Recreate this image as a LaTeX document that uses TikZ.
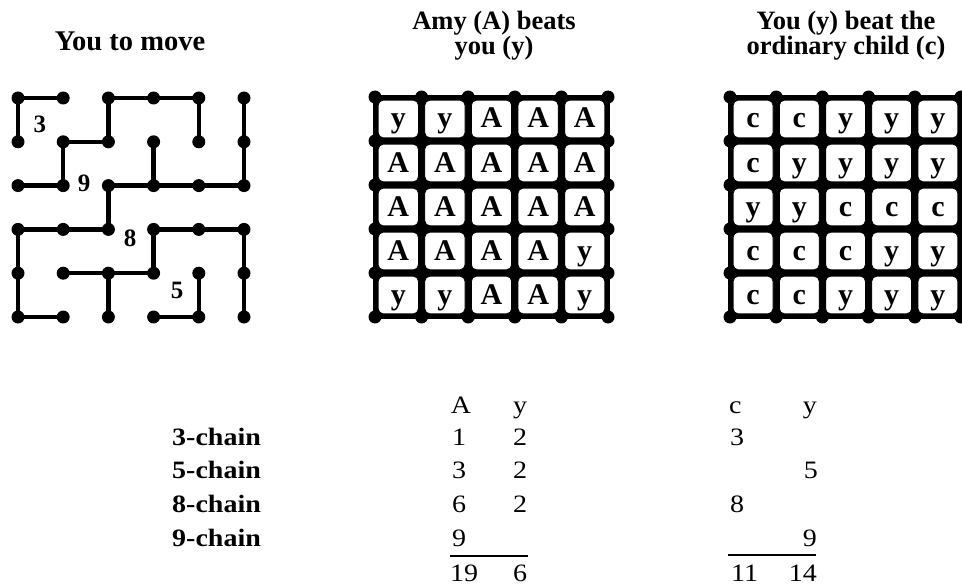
\documentclass[tikz,border=0pt]{standalone}
\usepackage{fontspec}
\setmainfont{Liberation Serif}
\newfontfamily\widefont[FakeStretch=1.12]{Liberation Serif}
\begin{document}
\begin{tikzpicture}[x=1pt,y=-1pt,
  dot/.style={circle,fill=black,inner sep=0pt,minimum size=13pt},
  mazeline/.style={line width=4.5pt},
  ttl/.style={font=\fontsize{26.5}{26}\selectfont\bfseries,inner sep=0pt},
  cell/.style={font=\fontsize{30}{32}\selectfont\bfseries,inner sep=0pt,anchor=base},
  mlabel/.style={font=\fontsize{25}{28}\selectfont\bfseries,inner sep=0pt},
  chainlab/.style={font=\widefont\fontsize{25}{30}\selectfont\bfseries,inner sep=0pt,anchor=base west},
  num/.style={font=\widefont\fontsize{25}{30}\selectfont,inner sep=0pt},
  sumline/.style={line width=1.3pt}
]
\useasboundingbox (0,0) rectangle (962,586);
\clip (0,0) rectangle (962,586);

% ---------- titles ----------
\node[ttl,anchor=base,font=\fontsize{28.5}{28}\selectfont\bfseries] (t1) at (130,51) {You to move};
\node[ttl,anchor=base] (t2a) at (494,30) {Amy (A) beats};
\node[ttl,anchor=base] (t2b) at (494,55) {you (y)};
\node[ttl,anchor=base] (t3a) at (846,30) {You (y) beat the};
\node[ttl,anchor=base] (t3b) at (846,55) {ordinary child (c)};

% ---------- maze ----------
\foreach \i in {0,...,5}{
  \foreach \j in {0,...,5}{
    \node[dot] (m\i\j) at ({18+45.2*\i},{98+43.8*\j}) {};
  }
}
\draw[mazeline] (m00.center)--(m10.center);
\draw[mazeline] (m20.center)--(m30.center)--(m40.center);
\draw[mazeline] (m11.center)--(m21.center);
\draw[mazeline] (m02.center)--(m12.center);
\draw[mazeline] (m22.center)--(m32.center)--(m42.center)--(m52.center);
\draw[mazeline] (m03.center)--(m13.center)--(m23.center);
\draw[mazeline] (m33.center)--(m43.center)--(m53.center);
\draw[mazeline] (m14.center)--(m24.center)--(m34.center);
\draw[mazeline] (m05.center)--(m15.center);
\draw[mazeline] (m35.center)--(m45.center);
\draw[mazeline] (m00.center)--(m01.center);
\draw[mazeline] (m20.center)--(m21.center);
\draw[mazeline] (m40.center)--(m41.center);
\draw[mazeline] (m50.center)--(m51.center)--(m52.center);
\draw[mazeline] (m11.center)--(m12.center);
\draw[mazeline] (m31.center)--(m32.center);
\draw[mazeline] (m22.center)--(m23.center);
\draw[mazeline] (m03.center)--(m04.center)--(m05.center);
\draw[mazeline] (m33.center)--(m34.center);
\draw[mazeline] (m53.center)--(m54.center)--(m55.center);
\draw[mazeline] (m24.center)--(m25.center);
\draw[mazeline] (m44.center)--(m45.center);

\node[mlabel] (l3) at (40,124) {3};
\node[mlabel] (l9) at (84,183) {9};
\node[mlabel] (l8) at (130,238) {8};
\node[mlabel] (l5) at (177,290) {5};

% ---------- middle grid ----------
\foreach \row [count=\r from 0] in {{y,y,A,A,A},{A,A,A,A,A},{A,A,A,A,A},{A,A,A,A,y},{y,y,A,A,y}}{
  \foreach \ch [count=\c from 0] in \row {
    \fill[black] ({375+46.6*\c},{97+44*\r}) rectangle ++(46.6,44);
    \filldraw[fill=white,draw=black,line width=0.8pt,rounded corners=5pt]
      ({375+46.6*\c+3.2},{97+44*\r+3.2}) rectangle ++(40.2,37.6);
    \node[cell] (a\c\r) at ({375+46.6*\c+23.3},{97+44*\r+31}) {\ch};
  }
}
\draw[line width=4pt] (375,97) rectangle (608,317);
\foreach \i in {0,...,5}{
  \foreach \j in {0,...,5}{
    \fill ({375+46.6*\i},{97+44*\j}) circle (6.5pt);
  }
}

% ---------- right grid ----------
\foreach \row [count=\r from 0] in {{c,c,y,y,y},{c,y,y,y,y},{y,y,c,c,c},{c,c,c,y,y},{c,c,y,y,y}}{
  \foreach \ch [count=\c from 0] in \row {
    \fill[black] ({730+46.2*\c},{97+44*\r}) rectangle ++(46.2,44);
    \filldraw[fill=white,draw=black,line width=0.8pt,rounded corners=5pt]
      ({730+46.2*\c+3.2},{97+44*\r+3.2}) rectangle ++(39.8,37.6);
    \node[cell] (b\c\r) at ({730+46.2*\c+23.1},{97+44*\r+31}) {\ch};
  }
}
\draw[line width=4pt] (730,97) rectangle (961,317);
\foreach \i in {0,...,5}{
  \foreach \j in {0,...,5}{
    \fill ({730+46.2*\i},{97+44*\j}) circle (6.5pt);
  }
}

% ---------- chain table ----------
\node[chainlab] (c3) at (172,445) {3-chain};
\node[chainlab] (c5) at (172,478) {5-chain};
\node[chainlab] (c8) at (172,512) {8-chain};
\node[chainlab] (c9) at (172,546) {9-chain};

% middle columns
\node[num,anchor=base] (hA) at (461,413) {A};
\node[num,anchor=base] (hy) at (520,413) {y};
\node[num,anchor=base west] (a1) at (452,445) {1};
\node[num,anchor=base] (y1) at (520,445) {2};
\node[num,anchor=base west] (a2) at (452,478) {3};
\node[num,anchor=base] (y2) at (520,478) {2};
\node[num,anchor=base west] (a3) at (452,512) {6};
\node[num,anchor=base] (y3) at (520,512) {2};
\node[num,anchor=base west] (a4) at (452,546) {9};
\coordinate (ulA) at (450,556);
\coordinate (urA) at (528,556);
\draw[sumline] (ulA) -- (urA);
\node[num,anchor=base west] (sA) at (450,581) {19};
\node[num,anchor=base] (sy) at (520,581) {6};

% right columns
\node[num,anchor=base west] (hc) at (729,413) {c};
\node[num,anchor=base east] (hy2) at (817,413) {y};
\node[num,anchor=base west] (c1) at (730,445) {3};
\node[num,anchor=base east] (d2) at (818,478) {5};
\node[num,anchor=base west] (c3b) at (730,512) {8};
\node[num,anchor=base east] (d4) at (817,546) {9};
\coordinate (ulB) at (728,555);
\coordinate (urB) at (816,555);
\draw[sumline] (ulB) -- (urB);
\node[num,anchor=base west] (sc) at (731,581) {11};
\node[num,anchor=base east] (sy2) at (817,581) {14};
\end{tikzpicture}
\end{document}
